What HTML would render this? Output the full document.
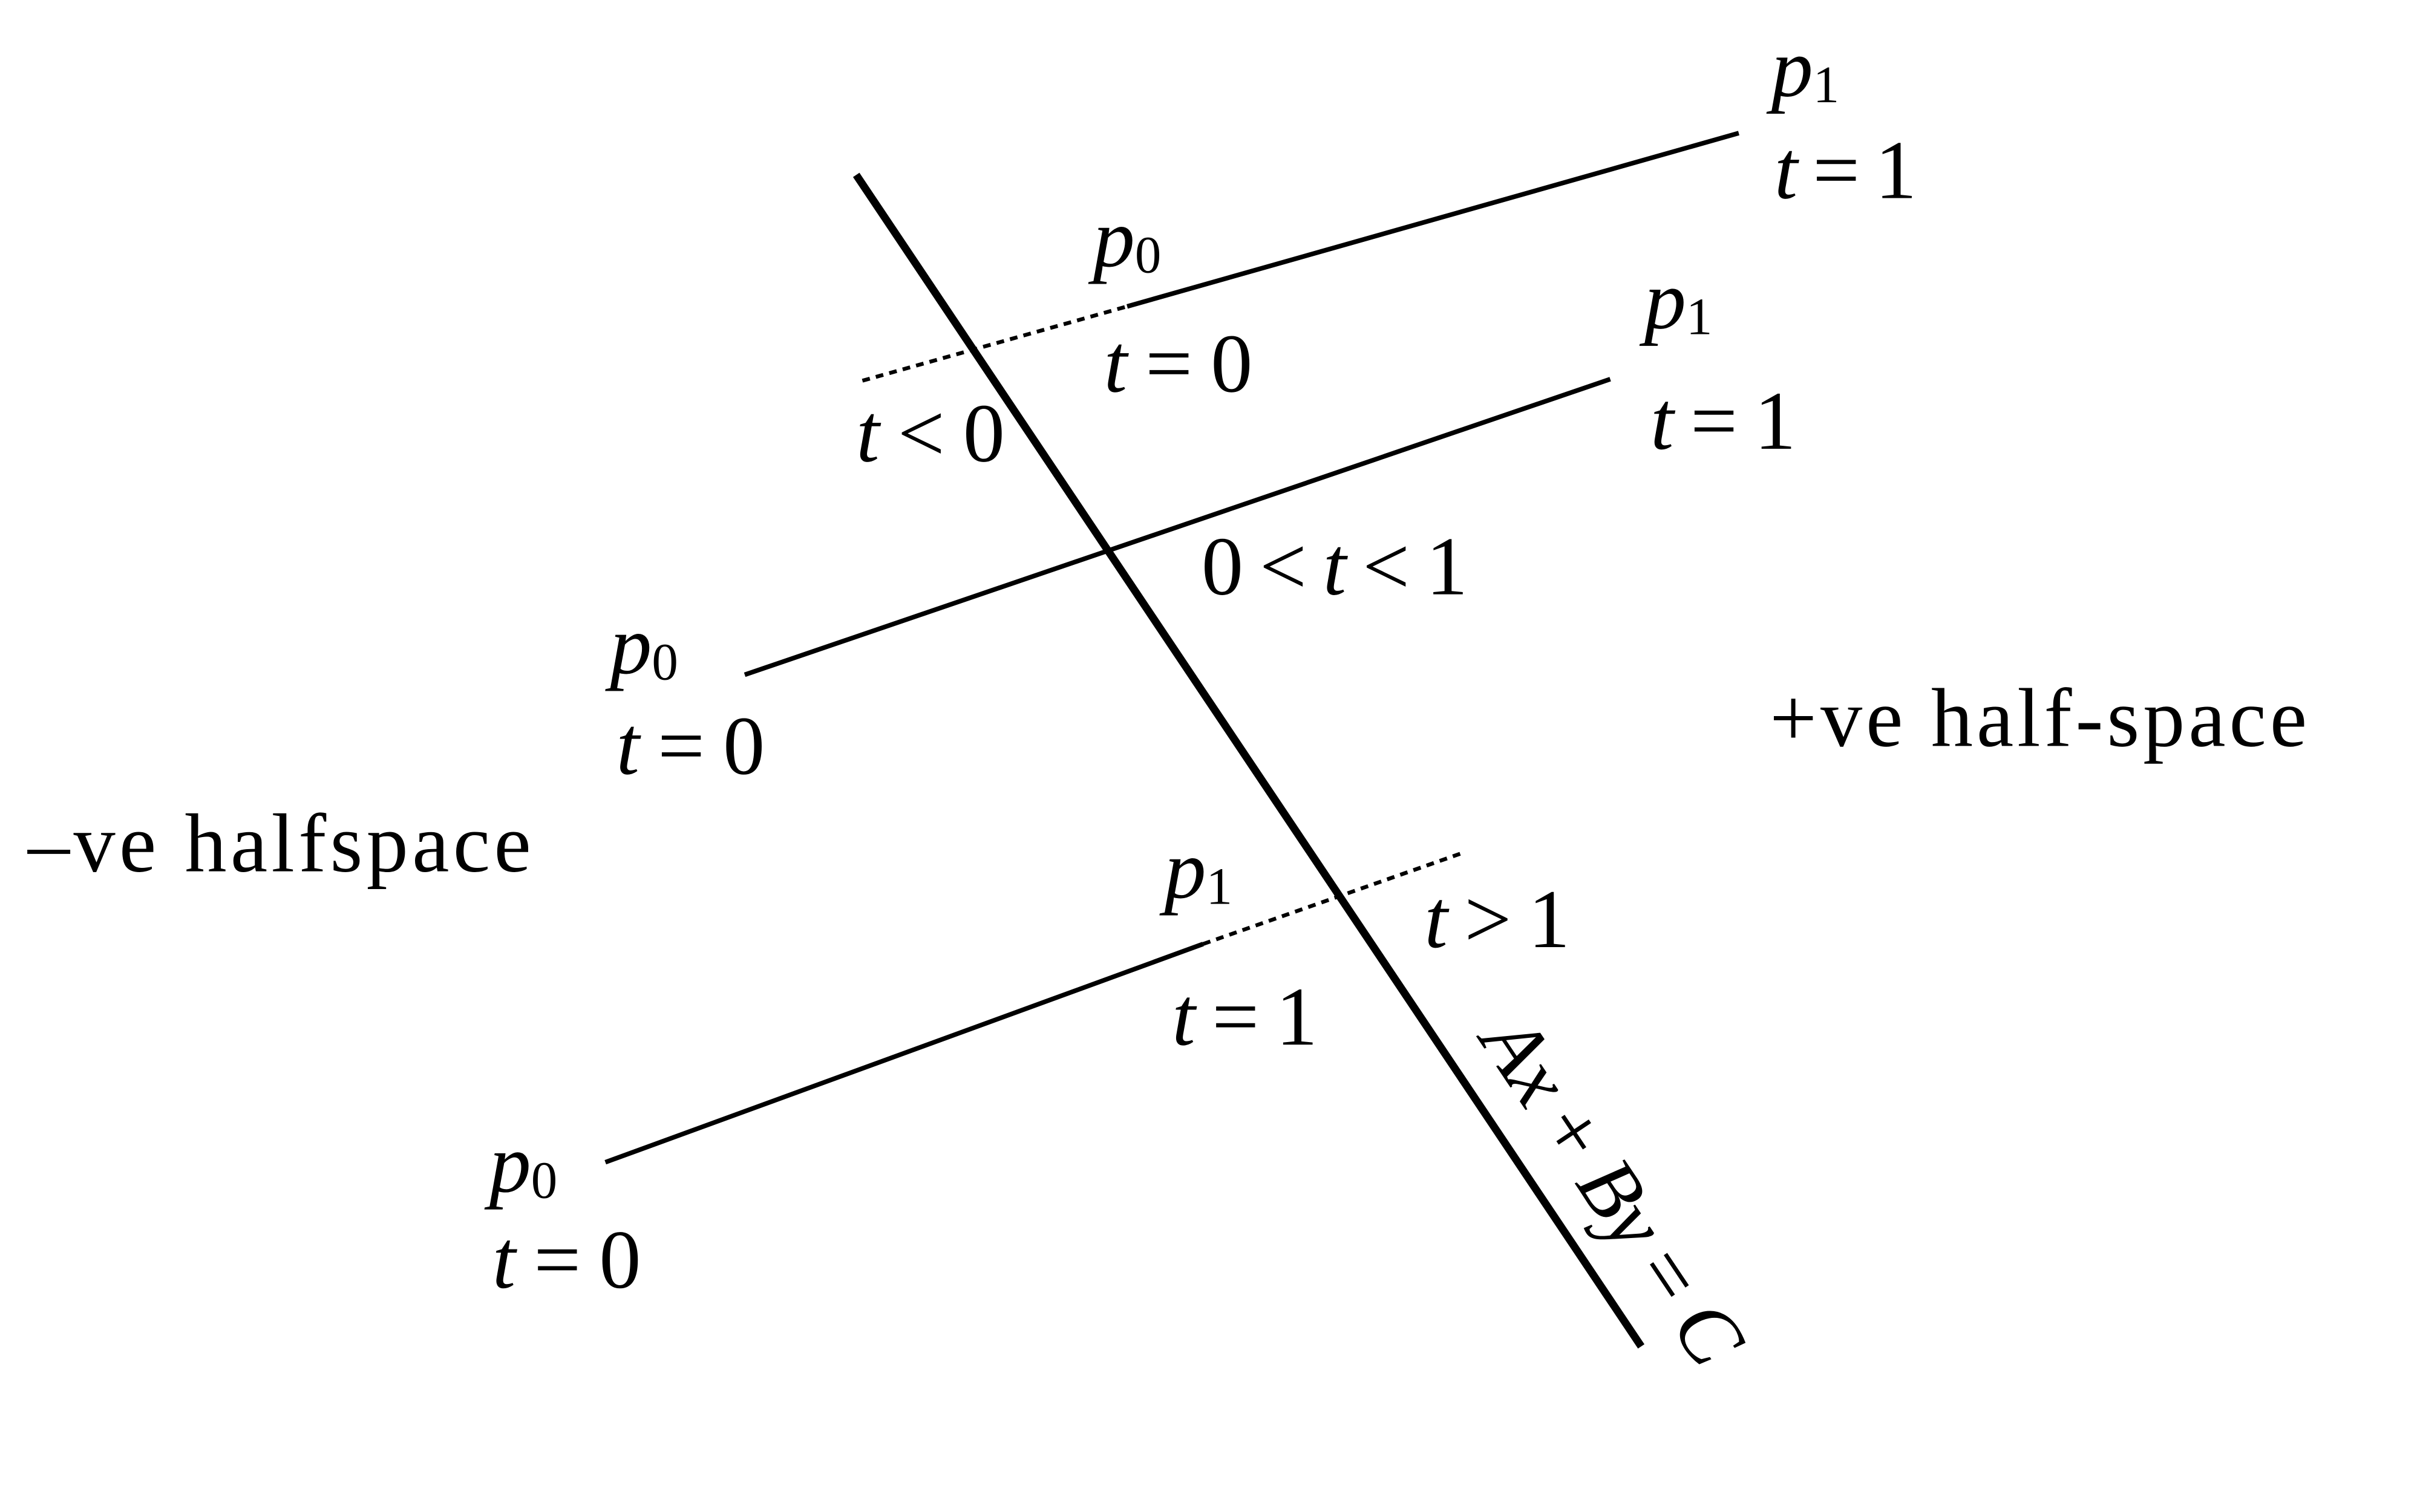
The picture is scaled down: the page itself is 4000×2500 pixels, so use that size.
<!DOCTYPE html>
<html><head><style>html,body{margin:0;padding:0;background:#fff}svg{display:block}
text{font-family:"Liberation Serif",serif;font-size:54px;fill:#000}
.i{font-style:italic}.s{font-size:34px;font-style:normal}</style></head>
<body>
<svg width="4000" height="2500" viewBox="0 0 1563 977" preserveAspectRatio="none" xmlns="http://www.w3.org/2000/svg">
<g stroke="#000" fill="none">
<line x1="553" y1="113" x2="1060" y2="870" stroke-width="5"/>
<line x1="728" y1="198" x2="1123" y2="86" stroke-width="3"/>
<line x1="557" y1="246" x2="728" y2="198" stroke-width="2.5" stroke-dasharray="5,4"/>
<line x1="481" y1="436" x2="1040" y2="245" stroke-width="3"/>
<line x1="391" y1="751" x2="777" y2="610" stroke-width="3"/>
<line x1="777" y1="610" x2="945" y2="551" stroke-width="2.5" stroke-dasharray="5,4"/>
</g>
<text x="1144" y="62" class="i">p<tspan class="s" dy="4">1</tspan></text>
<text x="1146" y="128" textLength="92"><tspan class="i">t</tspan> = 1</text>
<text x="706" y="172" class="i">p<tspan class="s" dy="4">0</tspan></text>
<text x="713" y="253" textLength="96"><tspan class="i">t</tspan> = 0</text>
<text x="1062" y="212" class="i">p<tspan class="s" dy="4">1</tspan></text>
<text x="1066" y="290" textLength="94"><tspan class="i">t</tspan> = 1</text>
<text x="553" y="298" textLength="96"><tspan class="i">t</tspan> &lt; 0</text>
<text x="776" y="384" textLength="172">0 &lt; <tspan class="i">t</tspan> &lt; 1</text>
<text x="394" y="435" class="i">p<tspan class="s" dy="4">0</tspan></text>
<text x="398" y="500" textLength="96"><tspan class="i">t</tspan> = 0</text>
<text x="1143" y="482" textLength="347">+ve half-space</text>
<text x="18" y="563" textLength="325">–ve halfspace</text>
<text x="752" y="580" class="i">p<tspan class="s" dy="4">1</tspan></text>
<text x="920" y="612" textLength="94"><tspan class="i">t</tspan> &gt; 1</text>
<text x="757" y="675" textLength="94"><tspan class="i">t</tspan> = 1</text>
<text x="316" y="770" class="i">p<tspan class="s" dy="4">0</tspan></text>
<text x="318" y="832" textLength="96"><tspan class="i">t</tspan> = 0</text>
<text transform="translate(955,672) rotate(56.2)" textLength="258"><tspan class="i">Ax</tspan> + <tspan class="i">By</tspan> = <tspan class="i">C</tspan></text>
</svg>
</body></html>
